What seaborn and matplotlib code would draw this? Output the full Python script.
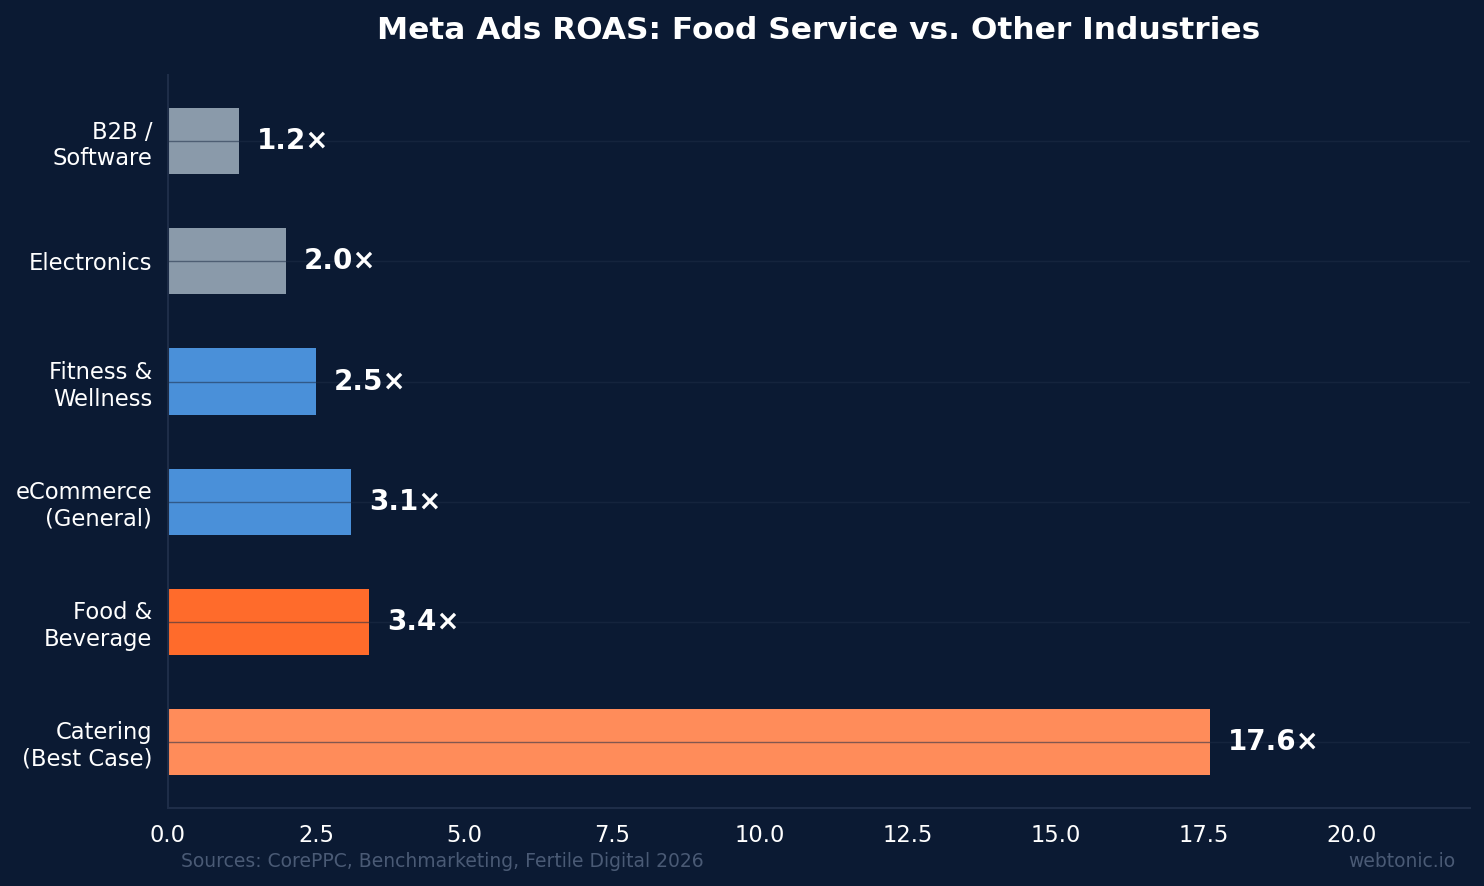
import matplotlib
matplotlib.use("Agg")
import matplotlib.pyplot as plt
import seaborn as sns
import pandas as pd

# === DATA ===
categories = ["B2B /\nSoftware", "Electronics", "Fitness &\nWellness",
              "eCommerce\n(General)", "Food &\nBeverage", "Catering\n(Best Case)"]
roas = [1.2, 2.0, 2.5, 3.1, 3.4, 17.6]
bar_colors = ["#8a9aaa", "#8a9aaa", "#4a90d9", "#4a90d9", "#ff6b2b", "#ff8c5a"]

bg = "#0b1a33"
grid_col = "#1e2d46"

df = pd.DataFrame({"industry": categories, "roas": roas})

sns.set_style("dark")
plt.rcParams["font.family"] = ["DejaVu Sans"]

fig, ax = plt.subplots(figsize=(14.84, 8.86), dpi=100)
fig.patch.set_facecolor(bg)
ax.set_facecolor(bg)

sns.barplot(data=df, x="roas", y="industry", hue="industry", palette=bar_colors,
            orient="h", width=0.55, legend=False, saturation=1, linewidth=0,
            ax=ax)

# value labels
for i, v in enumerate(roas):
    ax.text(v + 0.3, i, f"{v:.1f}×", va="center", ha="left",
            color="white", fontsize=20, fontweight="bold")

ax.set_xlim(0, 22)
ax.set_ylim(5.5525, -0.5525)
ax.set_xlabel("")
ax.set_ylabel("")

# grid over bars, horizontal only
ax.set_axisbelow(False)
ax.grid(axis="y", color=grid_col, alpha=0.55, linewidth=1)
ax.grid(axis="x", visible=False)

for side in ["top", "right"]:
    ax.spines[side].set_visible(False)
for side in ["left", "bottom"]:
    ax.spines[side].set_visible(True)
    ax.spines[side].set_color("#1e2d48")
    ax.spines[side].set_linewidth(1.5)

ax.tick_params(axis="both", colors="#e8edf3", labelsize=16.3, length=5, width=1)
ax.tick_params(axis="y", labelcolor="white", pad=6.5)
ax.tick_params(axis="x", labelcolor="white", pad=6.5)

ax.set_title("Meta Ads ROAS: Food Service vs. Other Industries",
             color="white", fontsize=22.5, fontweight="bold", pad=26)

fig.subplots_adjust(left=0.1132, right=0.9906, top=0.9153, bottom=0.088)

fig.text(0.122, 0.028, "Sources: CorePPC, Benchmarketing, Fertile Digital 2026",
         color="#4a5a75", fontsize=13.5, ha="left", va="center")
fig.text(0.981, 0.028, "webtonic.io", color="#4a5a75", fontsize=13.5,
         ha="right", va="center")

fig.savefig("out.png", dpi=100, facecolor=bg)
